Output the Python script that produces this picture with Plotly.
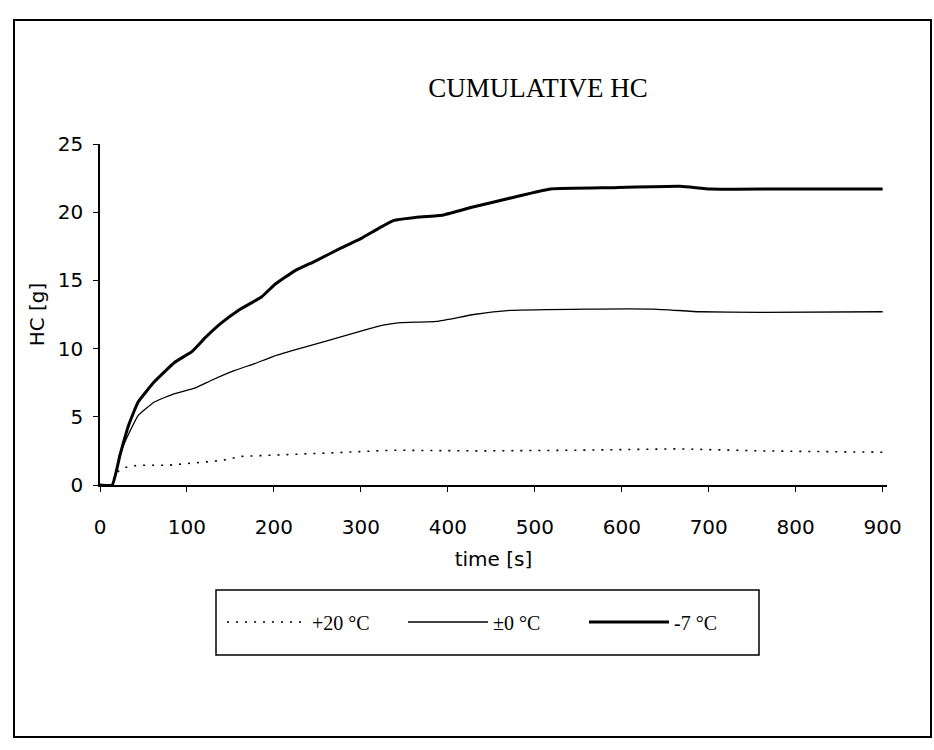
import plotly.graph_objects as go

# Cumulative hydrocarbon mass over the test, for three ambient temperatures
t_plus20 = [0, 14, 17, 25, 36, 52, 79, 109, 140, 163, 209, 263, 336, 437, 552, 664, 759, 900]
hc_plus20 = [0, 0, 0.8, 1.2, 1.4, 1.45, 1.45, 1.6, 1.8, 2.1, 2.2, 2.35, 2.55, 2.5, 2.55, 2.65, 2.5, 2.4]

t_zero = [0, 14, 23, 29, 44, 63, 86, 109, 129, 155, 178, 198, 224, 263, 301, 324, 345, 387,
          430, 472, 560, 637, 690, 759, 900]
hc_zero = [0, 0, 2.2, 3.2, 5.1, 6.1, 6.7, 7.1, 7.7, 8.4, 8.9, 9.4, 9.9, 10.6, 11.3, 11.7, 11.9,
           12.0, 12.5, 12.8, 12.9, 12.9, 12.7, 12.65, 12.7]

t_minus7 = [0, 14, 23, 33, 44, 63, 86, 106, 121, 140, 159, 186, 201, 224, 247, 278, 301, 320,
            338, 361, 395, 430, 476, 518, 591, 667, 702, 797, 900]
hc_minus7 = [0, 0, 2.2, 4.4, 6.1, 7.6, 9.0, 9.8, 10.8, 11.9, 12.8, 13.8, 14.7, 15.7, 16.4, 17.4,
             18.1, 18.8, 19.4, 19.6, 19.8, 20.4, 21.1, 21.7, 21.8, 21.9, 21.7, 21.7, 21.7]

series_names = ["+20 °C", "±0 °C", "-7 °C"]
x_ticks = [0, 100, 200, 300, 400, 500, 600, 700, 800, 900]
y_ticks = [0, 5, 10, 15, 20, 25]

W, H = 934, 750
L, R, T, B = 100, 47, 144, 265
plot_w = W - L - R
plot_h = H - T - B


def px_x(x):
    return (x - L) / plot_w


def px_y(y):
    return (H - B - y) / plot_h


fig = go.Figure()
fig.add_trace(go.Scatter(x=t_plus20, y=hc_plus20, mode="lines", name=series_names[0],
                         line=dict(color="black", width=1.6, dash="2px,7px")))
fig.add_trace(go.Scatter(x=t_zero, y=hc_zero, mode="lines", name=series_names[1],
                         line=dict(color="black", width=1.3, shape="spline", smoothing=0.4)))
fig.add_trace(go.Scatter(x=t_minus7, y=hc_minus7, mode="lines", name=series_names[2],
                         line=dict(color="black", width=3, shape="spline", smoothing=0.4)))

sans = "DejaVu Sans"
serif = "Liberation Serif"

fig.update_layout(
    width=W, height=H,
    margin=dict(l=L, r=R, t=T, b=B),
    paper_bgcolor="white", plot_bgcolor="white",
    showlegend=True,
    title=dict(text="CUMULATIVE HC", x=538 / W, xanchor="center",
               y=1 - 88 / H, yanchor="middle",
               font=dict(family=serif, size=27, color="black")),
    legend=dict(orientation="h", x=px_x(222), xanchor="left",
                y=px_y(622), yanchor="middle",
                bgcolor="rgba(0,0,0,0)", borderwidth=0,
                entrywidth=86, entrywidthmode="pixels", itemwidth=80,
                font=dict(family=serif, size=20, color="black")),
    xaxis=dict(range=[0, 905], tickvals=x_ticks, ticks="outside", ticklen=5,
               tickcolor="black", showline=True, linecolor="black", linewidth=1.5,
               showgrid=False, zeroline=False, ticklabelstandoff=18,
               tickfont=dict(family=sans, size=20, color="black"),
               title=dict(text="time [s]", standoff=14,
                          font=dict(family=sans, size=20, color="black"))),
    yaxis=dict(range=[0, 25], tickvals=y_ticks, ticks="outside", ticklen=5,
               tickcolor="black", showline=True, linecolor="black", linewidth=1.5,
               showgrid=False, zeroline=False, ticklabelstandoff=6,
               tickfont=dict(family=sans, size=20, color="black"),
               title=dict(text="HC [g]", standoff=8,
                          font=dict(family=sans, size=20, color="black"))),
    shapes=[
        # outer frame of the chart
        dict(type="rect", xref="paper", yref="paper",
             x0=px_x(14), x1=px_x(931), y0=px_y(20), y1=px_y(737),
             line=dict(color="black", width=2), layer="below"),
        # legend box
        dict(type="rect", xref="paper", yref="paper",
             x0=px_x(216), x1=px_x(759), y0=px_y(590), y1=px_y(655),
             line=dict(color="black", width=1.5), layer="below"),
    ],
)

fig.write_html("out.html")
